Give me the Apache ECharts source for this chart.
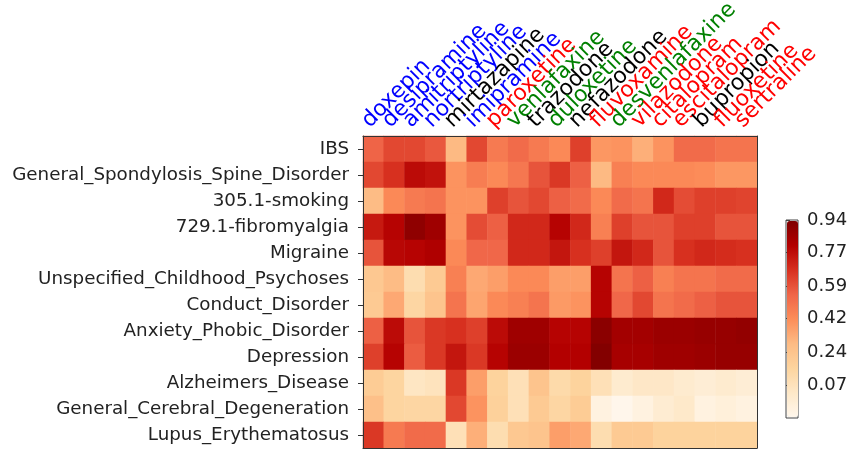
<!DOCTYPE html>
<html><head><meta charset="utf-8">
<script src="https://cdn.jsdelivr.net/npm/echarts@6/dist/echarts.min.js"></script>
<style>html,body{margin:0;padding:0;background:#fff}#c{width:850px;height:450px}</style>
</head><body><div id="c"></div>
<script>
const drugs = ['doxepin','desipramine','amitriptyline','nortriptyline','mirtazapine','imipramine','paroxetine','venlafaxine','trazodone','duloxetine','nefazodone','fluvoxamine','desvenlafaxine','vilazodone','citalopram','escitalopram','bupropion','fluoxetine','sertraline'];
const drugColors = ['blue','blue','blue','blue','black','blue','red','green','black','green','black','red','green','red','red','red','black','red','red'];
const conditions = ['IBS','General_Spondylosis_Spine_Disorder','305.1-smoking','729.1-fibromyalgia','Migraine','Unspecified_Childhood_Psychoses','Conduct_Disorder','Anxiety_Phobic_Disorder','Depression','Alzheimers_Disease','General_Cerebral_Degeneration','Lupus_Erythematosus'];
const values = [
  [0.55,0.62,0.62,0.58,0.29,0.62,0.48,0.53,0.48,0.43,0.64,0.39,0.40,0.32,0.40,0.53,0.53,0.50,0.50],
  [0.62,0.68,0.78,0.76,0.40,0.47,0.43,0.49,0.59,0.66,0.56,0.29,0.46,0.43,0.43,0.43,0.42,0.39,0.39],
  [0.28,0.43,0.48,0.50,0.40,0.40,0.64,0.59,0.62,0.56,0.53,0.43,0.53,0.50,0.70,0.61,0.64,0.64,0.63],
  [0.74,0.80,0.90,0.86,0.40,0.61,0.56,0.70,0.70,0.80,0.70,0.46,0.64,0.59,0.59,0.64,0.64,0.59,0.59],
  [0.59,0.79,0.80,0.82,0.43,0.54,0.54,0.70,0.70,0.75,0.68,0.64,0.75,0.70,0.59,0.68,0.70,0.69,0.68],
  [0.22,0.28,0.10,0.21,0.46,0.34,0.37,0.43,0.43,0.37,0.37,0.80,0.50,0.56,0.46,0.50,0.50,0.53,0.53],
  [0.21,0.34,0.14,0.24,0.50,0.35,0.43,0.46,0.50,0.38,0.40,0.80,0.54,0.62,0.50,0.53,0.56,0.59,0.59],
  [0.56,0.78,0.59,0.66,0.68,0.64,0.78,0.86,0.86,0.80,0.80,0.91,0.85,0.85,0.87,0.87,0.88,0.88,0.89],
  [0.64,0.80,0.57,0.66,0.75,0.66,0.80,0.87,0.87,0.81,0.81,0.93,0.84,0.84,0.86,0.86,0.87,0.88,0.88],
  [0.20,0.15,0.04,0.06,0.66,0.37,0.16,0.08,0.24,0.12,0.16,0.08,0.00,0.03,0.03,0.00,-0.02,0.00,-0.02],
  [0.26,0.15,0.14,0.14,0.62,0.40,0.17,0.08,0.21,0.14,0.20,-0.06,-0.10,-0.06,-0.01,0.02,-0.06,-0.04,-0.06],
  [0.66,0.48,0.53,0.53,0.08,0.32,0.10,0.22,0.24,0.37,0.34,0.10,0.21,0.21,0.16,0.16,0.16,0.16,0.16]
];
const colorbarTicks = [0.07,0.24,0.42,0.59,0.77,0.94];
const vMin = -0.105, vMax = 0.94;
const orRd = ['#fff7ec','#fee8c8','#fdd49e','#fdbb84','#fc8d59','#ef6548','#d7301f','#b30000','#7f0000'];

const cells = [];
values.forEach((row, i) => row.forEach((v, j) => cells.push([j, i, v])));

const FONT = 'DejaVu Sans';
const chart = echarts.init(document.getElementById('c'), null, {renderer: 'canvas'});
chart.setOption({
  backgroundColor: '#fff',
  animation: false,
  grid: [
    {left: 363, top: 136, width: 394, height: 312, containLabel: false, outerBoundsMode: 'none'},
    {left: 786, top: 220, width: 12, height: 198, show: true, borderColor: '#444', borderWidth: 1,
     backgroundColor: 'transparent', containLabel: false, outerBoundsMode: 'none'}
  ],
  xAxis: [
    {type: 'category', data: drugs, position: 'top', gridIndex: 0, z: 5,
     axisLine: {show: true, lineStyle: {color: '#333', width: 1}},
     axisTick: {show: false},
     splitLine: {show: false},
     axisLabel: {interval: 0, rotate: -45, margin: 4, fontSize: 22, fontFamily: FONT,
       align: 'left', verticalAlign: 'bottom', hideOverlap: false,
       color: (val, idx) => drugColors[idx]}},
    {type: 'category', data: drugs, position: 'bottom', gridIndex: 0, z: 5,
     axisLine: {show: true, lineStyle: {color: '#333', width: 1}},
     axisTick: {show: false}, axisLabel: {show: false}},
    {type: 'value', gridIndex: 1, show: false, min: 0, max: 1}
  ],
  yAxis: [
    {type: 'category', data: conditions, inverse: true, gridIndex: 0, z: 5,
     axisLine: {show: true, lineStyle: {color: '#333', width: 1}},
     axisTick: {show: true, length: 5, alignWithLabel: true, lineStyle: {color: '#333'}},
     axisLabel: {interval: 0, margin: 14, fontSize: 18.3, fontFamily: FONT, color: '#222'}},
    {type: 'category', data: conditions, inverse: true, position: 'right', gridIndex: 0, z: 5,
     axisLine: {show: true, lineStyle: {color: '#333', width: 1}},
     axisTick: {show: false}, axisLabel: {show: false}},
    {type: 'value', gridIndex: 1, position: 'right', min: vMin, max: vMax,
     axisLine: {show: false}, splitLine: {show: false},
     axisTick: {show: true, length: 4, lineStyle: {color: '#444'}, customValues: colorbarTicks},
     axisLabel: {show: true, margin: 9, fontSize: 18, fontFamily: FONT, color: '#222',
       customValues: colorbarTicks, formatter: v => v.toFixed(2)}}
  ],
  visualMap: {
    type: 'continuous', min: vMin, max: vMax, seriesIndex: 0, dimension: 2,
    calculable: false, left: 787, top: 221, itemWidth: 11, itemHeight: 196,
    padding: 0, orient: 'vertical', text: null, showLabel: false,
    inRange: {color: orRd}
  },
  series: [
    {type: 'heatmap', xAxisIndex: 0, yAxisIndex: 0, data: cells,
     itemStyle: {borderWidth: 0}, emphasis: {disabled: true}, progressive: 0},
    {type: 'line', xAxisIndex: 2, yAxisIndex: 2, data: [], silent: true}
  ]
});
</script>
</body></html>
